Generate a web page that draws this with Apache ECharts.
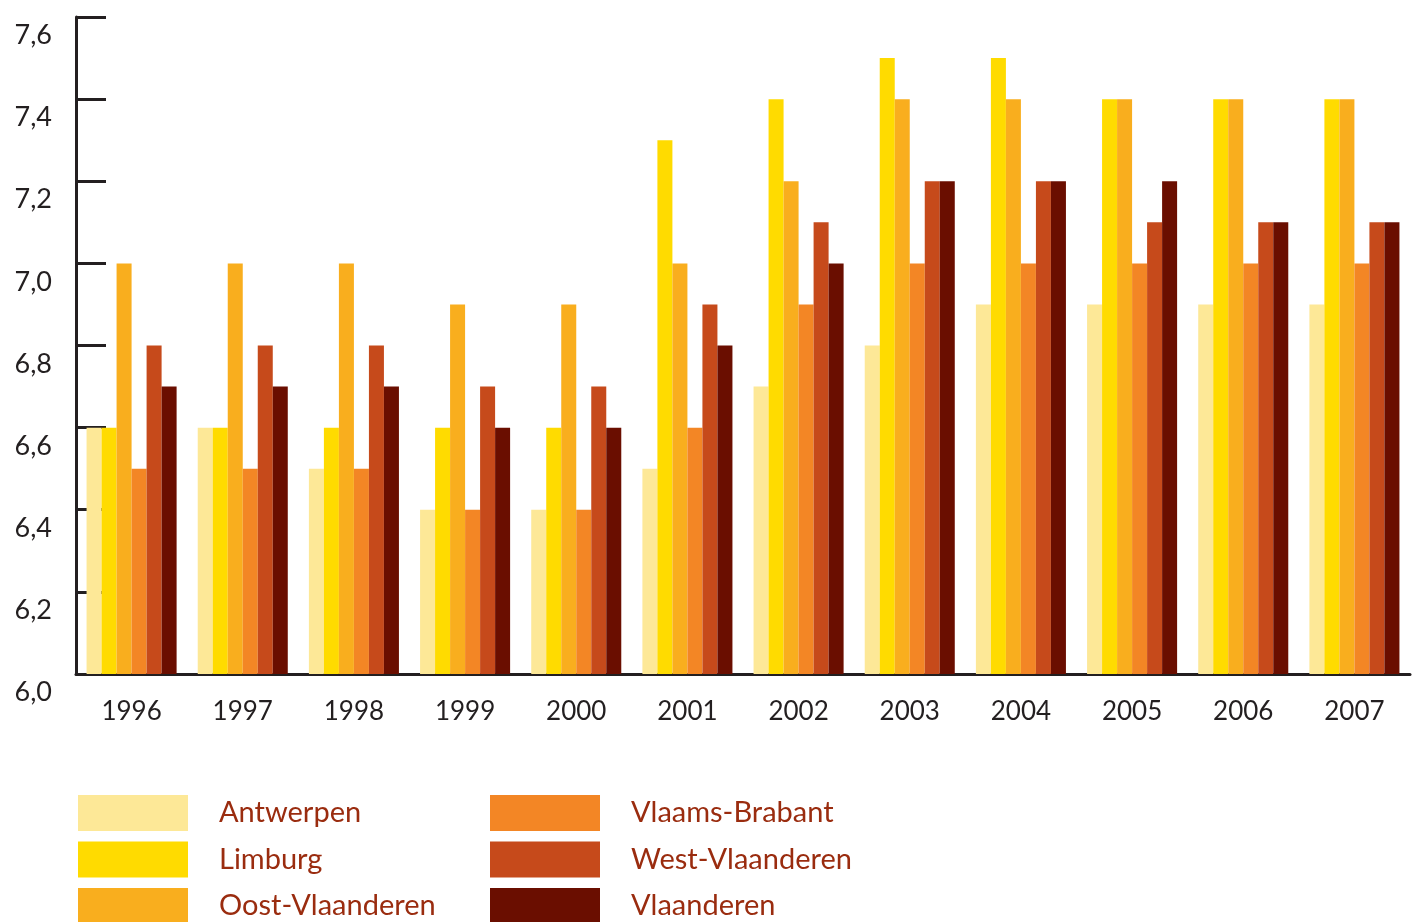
<!DOCTYPE html>
<html>
<head>
<meta charset="utf-8">
<style>
  html, body { margin: 0; padding: 0; background: #ffffff; }
  #chart { width: 1413px; height: 922px; }
</style>
<script src="https://cdn.jsdelivr.net/npm/echarts@6/dist/echarts.min.js"></script>
</head>
<body>
<div id="chart"></div>
<script>
// Years on the category axis
const years = ['1996', '1997', '1998', '1999', '2000', '2001', '2002', '2003', '2004', '2005', '2006', '2007'];

// Scores per province and for Flanders as a whole
const antwerpen      = [6.6, 6.6, 6.5, 6.4, 6.4, 6.5, 6.7, 6.8, 6.9, 6.9, 6.9, 6.9];
const limburg        = [6.6, 6.6, 6.6, 6.6, 6.6, 7.3, 7.4, 7.5, 7.5, 7.4, 7.4, 7.4];
const oostVlaanderen = [7.0, 7.0, 7.0, 6.9, 6.9, 7.0, 7.2, 7.4, 7.4, 7.4, 7.4, 7.4];
const vlaamsBrabant  = [6.5, 6.5, 6.5, 6.4, 6.4, 6.6, 6.9, 7.0, 7.0, 7.0, 7.0, 7.0];
const westVlaanderen = [6.8, 6.8, 6.8, 6.7, 6.7, 6.9, 7.1, 7.2, 7.2, 7.1, 7.1, 7.1];
const vlaanderen     = [6.7, 6.7, 6.7, 6.6, 6.6, 6.8, 7.0, 7.2, 7.2, 7.2, 7.1, 7.1];

const seriesNames = ['Antwerpen', 'Limburg', 'Oost-Vlaanderen', 'Vlaams-Brabant', 'West-Vlaanderen', 'Vlaanderen'];
const seriesData = [antwerpen, limburg, oostVlaanderen, vlaamsBrabant, westVlaanderen, vlaanderen];
const colors = ['#FDE897', '#FFDB00', '#F9AE1E', '#F38625', '#C64A1B', '#6A0E00'];

const ink = '#231F20';
const legendInk = '#9A2C0F';
const font = 'Lato';

const chart = echarts.init(document.getElementById('chart'), null, { renderer: 'canvas' });

// Two three-row legend columns below the plot
const legendBase = {
  orient: 'vertical',
  top: 795,
  height: 200,
  itemWidth: 110,
  itemHeight: 36,
  itemGap: 10.5,
  padding: 0,
  icon: 'rect',
  selectedMode: false,
  textStyle: {
    color: legendInk,
    fontFamily: font,
    fontSize: 29,
    padding: [0, 0, 0, 26]
  }
};

chart.setOption({
  animation: false,
  color: colors,
  grid: { left: 76, right: 3, top: 17, bottom: 248, containLabel: false },
  legend: [
    Object.assign({}, legendBase, { left: 78, data: seriesNames.slice(0, 3) }),
    Object.assign({}, legendBase, { left: 490, data: seriesNames.slice(3) })
  ],
  xAxis: {
    type: 'category',
    data: years,
    z: 0,
    axisLine: { lineStyle: { color: ink, width: 3 } },
    axisTick: { inside: true, length: 14, lineStyle: { color: ink, width: 3 } },
    axisLabel: { color: ink, fontFamily: font, fontSize: 26, margin: 25 }
  },
  yAxis: {
    type: 'value',
    min: 6.0,
    max: 7.6,
    interval: 0.2,
    z: 0,
    splitLine: { show: false },
    axisLine: { show: true, lineStyle: { color: ink, width: 3 } },
    axisTick: { show: true, inside: true, length: 30, lineStyle: { color: ink, width: 3 } },
    axisLabel: {
      color: ink,
      fontFamily: font,
      fontSize: 27,
      margin: 24,
      verticalAlign: 'top',
      padding: [5, 0, 0, 0],
      formatter: v => v.toFixed(1).replace('.', ',')
    }
  },
  series: seriesNames.map((name, i) => ({
    name: name,
    type: 'bar',
    z: 3,
    data: seriesData[i],
    barGap: 0,
    barCategoryGap: '19%'
  }))
});
</script>
</body>
</html>
